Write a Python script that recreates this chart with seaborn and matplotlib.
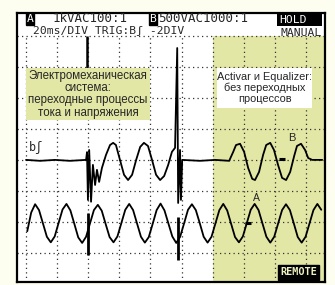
import numpy as np
import pandas as pd
import matplotlib.pyplot as plt
from matplotlib.patches import Rectangle
import seaborn as sns

# screen units = divisions (x: 20 ms/div, y: volts/div)
# channel B (voltage)
B_x = [0.00, 0.45, 0.93, 1.41, 1.93, 1.96, 1.99, 2.03, 2.09, 2.15, 2.22, 2.28, 2.35, 2.44,
       2.57, 2.70, 2.80, 2.89, 3.02, 3.15, 3.28, 3.41, 3.54, 3.67, 3.79, 3.92, 4.05, 4.18,
       4.31, 4.44, 4.57, 4.69, 4.79, 4.86, 4.89, 4.95, 4.98, 5.02, 5.59, 6.08, 6.53, 6.66,
       6.75, 6.88, 7.01, 7.14, 7.27, 7.36, 7.49, 7.62, 7.72, 7.85, 7.97, 8.10, 8.23, 8.36,
       8.49, 8.62, 8.71, 8.84, 8.97, 9.07, 9.20, 9.52]
B_y = [0.00, -0.03, 0.00, -0.03, 0.00, 0.25, -1.29, 0.32, -1.35, -0.16, -0.81, -0.32, -0.71, -0.26,
       0.16, 0.48, 0.55, 0.48, 0.00, -0.48, -0.65, -0.48, 0.00, 0.42, 0.55, 0.45, 0.00, -0.48,
       -0.65, -0.52, -0.16, 0.26, 0.39, 3.61, -1.39, 0.32, -1.29, 0.00, -0.03, 0.00, -0.03, 0.26,
       0.48, 0.52, 0.26, -0.26, -0.61, -0.65, -0.39, 0.16, 0.48, 0.55, 0.32, -0.16, -0.58, -0.65,
       -0.39, 0.13, 0.45, 0.52, 0.32, 0.06, 0.00, 0.00]

# channel A (current) - sampled every 1/8 period
A_start, A_step = 0.04, 0.126
A_y = [-2.30, -1.70, -1.43, -1.62, -2.05, -2.48, -2.66, -2.47,
       -2.03, -1.60, -1.42, -1.63, -2.06, -2.50, -2.68, -2.48,
       -2.05, -1.62, -1.45, -1.64, -2.07, -2.49, -2.66, -2.47,
       -2.04, -1.61, -1.42, -1.62, -2.05, -2.48, -2.67, -2.49,
       -2.06, -1.62, -1.41, -1.63, -2.05, -2.47, -2.68, -2.48,
       -2.05, -1.61, -1.43, -1.62, -2.04, -2.48, -2.67, -2.48,
       -2.05, -1.62, -1.42, -1.63, -2.06, -2.49, -2.66, -2.47,
       -2.04, -1.61, -1.42, -1.62, -2.05, -2.48, -2.67, -2.48,
       -2.05, -1.62, -1.43, -1.62, -2.05, -2.49, -2.67, -2.48,
       -2.05, -1.62, -1.42, -1.61]
A_spike_x = [1.99, 4.88]
A_spike_lo = [-3.06, -3.23]
A_spike_hi = [-1.71, -1.84]

trig_x = 1.96
zero_A = (7.14, -2.03)
zero_B = (8.23, 0.03)

header1 = ["1kVAC100:1", "500VAC1000:1"]
header2 = "20ms/DIV TRIG:Bʃ -2DIV"
note_left = "Электромеханическая\nсистема:\nпереходные процессы\nтока и напряжения"
note_right = "Activar и Equalizer:\nбез переходных\nпроцессов"

dfA = pd.DataFrame({"t": A_start + A_step * np.arange(len(A_y)), "v": A_y})
dfB = pd.DataFrame({"t": B_x, "v": B_y})

sns.set_style("white")
plt.rcParams["font.family"] = ["Liberation Sans", "DejaVu Sans"]

fig = plt.figure(figsize=(3.35, 2.85), dpi=100, facecolor="#fefef0")
ax = fig.add_axes([17 / 335, 3 / 285, 308 / 335, 269 / 285])
ax.set_xlim(-0.29, 9.61)
ax.set_ylim(-3.94, 4.74)
ax.set_facecolor("white")
for s in ax.spines.values():
    s.set_color("black")
    s.set_linewidth(1.6)
ax.set_xticks([])
ax.set_yticks([])

yel = "#e2e7a6"
ax.axvspan(6.0, 9.61, ymin=0, ymax=(4 + 3.94) / 8.68, color=yel, lw=0, zorder=0)

# dotted graticule
dot = dict(color="#333333", lw=0.9, ls=(0, (1, 2.6)), zorder=1)
for gx in range(10):
    ax.plot([gx, gx], [-3.94, 4.0], **dot)
for gy in range(-3, 5):
    ax.plot([-0.29, 9.61], [gy, gy], **dot)

# traces
sns.lineplot(data=dfB, x="t", y="v", ax=ax, color="black", lw=1.3, sort=False,
             estimator=None, zorder=3)
sns.lineplot(data=dfA, x="t", y="v", ax=ax, color="black", lw=1.3, sort=False,
             estimator=None, zorder=3)
ax.vlines(A_spike_x, A_spike_lo, A_spike_hi, color="black", lw=2.0, zorder=3)
ax.vlines([trig_x], [2.9], [4.0], color="black", lw=1.8, zorder=3)
ax.plot(*zero_A, marker="_", ms=5, mew=2.2, color="black", zorder=4)
ax.plot(*zero_B, marker="_", ms=5, mew=2.2, color="black", zorder=4)
ax.set_xlabel("")
ax.set_ylabel("")

# note boxes
ax.add_patch(Rectangle((0.0, 1.29), 3.99, 1.68, color=yel, lw=0, zorder=5))
ax.text(1.99, 2.12, note_left, ha="center", va="center", fontsize=8.3,
        linespacing=1.05, zorder=6)
ax.add_patch(Rectangle((6.14, 1.68), 3.06, 1.29, color="white", lw=0, zorder=5))
ax.text(7.67, 2.32, note_right, ha="center", va="center", fontsize=7.9,
        linespacing=1.1, zorder=6)

# channel labels
ax.text(7.40, -1.23, "A", ha="center", va="center", fontsize=7.5, zorder=6)
ax.text(8.55, 0.71, "B", ha="center", va="center", fontsize=8, zorder=6)
ax.text(0.10, 0.39, "bʃ", ha="left", va="center", fontsize=8.5, family="DejaVu Sans Mono",
        zorder=6)

# header
mono = dict(family="DejaVu Sans Mono", va="center", zorder=6)
inv = dict(facecolor="black", edgecolor="black", pad=0.6)
ax.text(0.12, 4.55, "A", color="white", bbox=inv, ha="center", fontsize=8.2, **mono)
ax.text(0.84, 4.55, header1[0], ha="left", fontsize=9, **mono)
ax.text(4.08, 4.55, "B", color="white", bbox=inv, ha="center", fontsize=8.2, **mono)
ax.text(4.24, 4.55, header1[1], ha="left", fontsize=9, **mono)
ax.add_patch(Rectangle((8.06, 4.33), 1.46, 0.38, color="black", lw=0, zorder=5))
ax.text(8.13, 4.53, "HOLD", color="white", ha="left", fontsize=8.2, **mono)
ax.text(0.23, 4.15, header2, ha="left", fontsize=8.2, **mono)
ax.text(9.52, 4.11, "MANUAL", ha="right", fontsize=8.2, **mono)
ax.text(8.76, -3.62, "REMOTE", color="#eef0c0", ha="center", fontweight="bold",
        bbox=dict(facecolor="black", edgecolor="black", pad=1.8), fontsize=7.4, **mono)

fig.savefig("out.png", dpi=100, facecolor=fig.get_facecolor())
